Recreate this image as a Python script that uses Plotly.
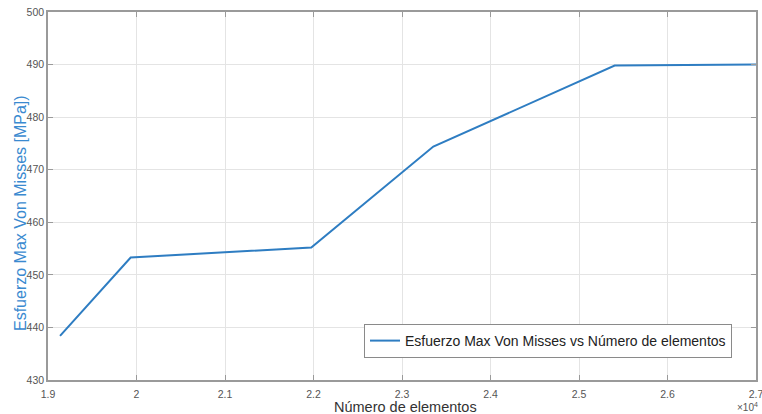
import plotly.graph_objects as go

# Mesh convergence: element count vs. maximum Von Mises stress
elementos = [19136, 19934, 21975, 23354, 25403, 27000]
esfuerzo = [438.4, 453.3, 455.2, 474.4, 489.8, 490.0]

x_ticks = [19000, 20000, 21000, 22000, 23000, 24000, 25000, 26000, 27000]
x_labels = ["1.9", "2", "2.1", "2.2", "2.3", "2.4", "2.5", "2.6", "2.7"]
y_ticks = [430, 440, 450, 460, 470, 480, 490, 500]

font_family = "Liberation Sans, Arial, sans-serif"
blue = "#2e7dc2"
axis_color = "#9a9a9a"
grid_color = "#e4e4e4"

W, H = 762, 414
L, R, T, B = 48, 6, 12, 34

plot_w = W - L - R
plot_h = H - T - B

def px_to_paper_x(px):
    return (px - L) / plot_w

def px_to_paper_y(py):
    return (H - B - py) / plot_h

fig = go.Figure()
fig.add_trace(go.Scatter(
    x=elementos, y=esfuerzo, mode="lines",
    line=dict(color=blue, width=2),
    name="Esfuerzo Max Von Misses vs Número de elementos",
))

fig.update_layout(
    width=W, height=H,
    margin=dict(l=L, r=R, t=T, b=B, autoexpand=False),
    paper_bgcolor="white", plot_bgcolor="white",
    font=dict(family=font_family, color="#4a4a4a"),
    showlegend=True,
    legend=dict(
        x=px_to_paper_x(364), y=px_to_paper_y(341),
        xanchor="left", yanchor="middle",
        bgcolor="white", bordercolor="#8a8a8a", borderwidth=1,
        font=dict(size=14, color="#222222", family=font_family),
        tracegroupgap=0, itemwidth=30,
    ),
)

fig.update_xaxes(
    range=[19000, 27000], tickvals=x_ticks, ticktext=x_labels,
    automargin=False, ticklabeloverflow="allow",
    showgrid=True, gridcolor=grid_color, gridwidth=1,
    showline=True, linecolor=axis_color, linewidth=1.5, mirror="ticks",
    ticks="inside", ticklen=5, tickcolor=axis_color,
    tickfont=dict(size=10.5, color="#555555"), ticklabelstandoff=4,
    zeroline=False,
)
fig.update_yaxes(
    range=[430, 500], tickvals=y_ticks,
    automargin=False,
    showgrid=True, gridcolor=grid_color, gridwidth=1,
    showline=True, linecolor=axis_color, linewidth=1.5, mirror="ticks",
    ticks="inside", ticklen=5, tickcolor=axis_color,
    tickfont=dict(size=10.5, color="#555555"),
    zeroline=False,
)

# Axis titles
fig.add_annotation(
    text="Número de elementos", xref="paper", yref="paper",
    x=px_to_paper_x(406), y=px_to_paper_y(407),
    xanchor="center", yanchor="middle", showarrow=False,
    font=dict(size=14.5, color="#333333"),
)
fig.add_annotation(
    text="Esfuerzo Max Von Misses [MPa])", xref="paper", yref="paper",
    x=px_to_paper_x(20), y=px_to_paper_y(213), textangle=-90,
    xanchor="center", yanchor="middle", showarrow=False,
    font=dict(size=16, color="#3a8ad0"),
)

# Exponent marker of the x axis, in the lower-right corner
fig.add_annotation(
    text="×10<sup>4</sup>", xref="paper", yref="paper",
    x=px_to_paper_x(760), y=px_to_paper_y(407),
    xanchor="right", yanchor="middle",
    showarrow=False, font=dict(size=10, color="#555555"),
)

fig.write_html("out.html")
